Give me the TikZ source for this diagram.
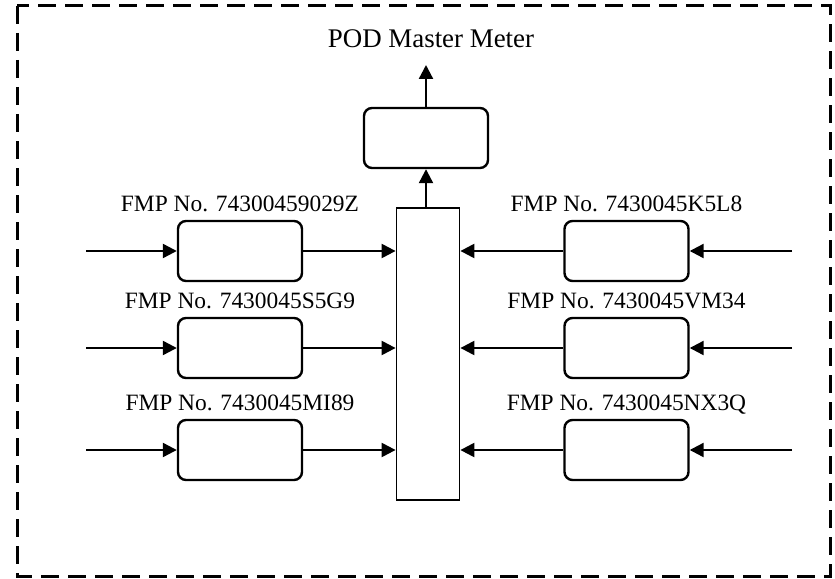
\documentclass[tikz,border=0pt]{standalone}
\usepackage{fontspec}
\setmainfont{Liberation Serif}
\usetikzlibrary{arrows.meta}
\begin{document}
\begin{tikzpicture}[x=1bp,y=-1bp,
  fmpbox/.style={draw,line width=2.4bp,rounded corners=8bp,minimum width=124bp,minimum height=60bp,inner sep=0pt},
  hubbox/.style={draw,line width=1.8bp,minimum width=63bp,minimum height=292bp,inner sep=0pt},
  lbl/.style={anchor=base,inner sep=0pt,font=\fontsize{23.5}{28}\selectfont},
  ttl/.style={anchor=base,inner sep=0pt,font=\fontsize{27}{32}\selectfont},
  flow/.style={line width=2.3bp,-{Triangle[length=14bp,width=14bp]}},
  frame/.style={line width=3bp,dash pattern=on 18bp off 9bp}]
\useasboundingbox (0,0) rectangle (835,579);
\draw[frame] (17,6) rectangle (830,576);
% hub and top box
\node[hubbox] (hub) at (428,354) {};
\node[fmpbox] (top) at (426,138) {};
\coordinate (out) at (426,65);
\node[ttl] (title) at (431,48) {POD Master Meter};
\draw[flow] (hub.north -| top.south) -- (top.south);
\draw[flow] (top.north) -- (out);
% left boxes
\node[fmpbox] (l1) at (240,251) {};
\node[fmpbox] (l2) at (240,348) {};
\node[fmpbox] (l3) at (240,450) {};
% right boxes
\node[fmpbox] (r1) at (626.5,251) {};
\node[fmpbox] (r2) at (626.5,348) {};
\node[fmpbox] (r3) at (626.5,450) {};
% labels
\node[lbl] (t1) at ([yshift=8bp]l1.north) {FMP No. 74300459029Z};
\node[lbl] (t2) at ([yshift=8bp]l2.north) {FMP No. 7430045S5G9};
\node[lbl] (t3) at ([yshift=8bp]l3.north) {FMP No. 7430045MI89};
\node[lbl] (u1) at ([yshift=8bp]r1.north) {FMP No. 7430045K5L8};
\node[lbl] (u2) at ([yshift=8bp]r2.north) {FMP No. 7430045VM34};
\node[lbl] (u3) at ([yshift=8bp]r3.north) {FMP No. 7430045NX3Q};
% inputs
\coordinate (li1) at (86,251);
\coordinate (li2) at (86,348);
\coordinate (li3) at (86,450);
\coordinate (ri1) at (792,251);
\coordinate (ri2) at (792,348);
\coordinate (ri3) at (792,450);
\foreach \i in {1,2,3}{
  \draw[flow] (li\i) -- (l\i.west);
  \draw[flow] (l\i.east) -- (l\i.east -| hub.west);
  \draw[flow] (ri\i) -- (r\i.east);
  \draw[flow] (r\i.west) -- (r\i.west -| hub.east);
}
\end{tikzpicture}
\end{document}
